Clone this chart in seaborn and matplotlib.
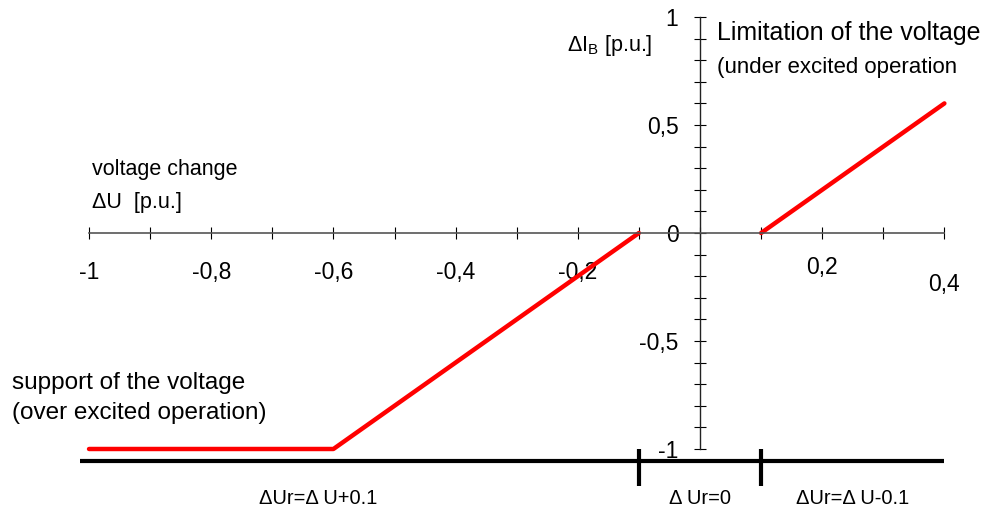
import numpy as np
import pandas as pd
import seaborn as sns
import matplotlib.pyplot as plt
from matplotlib.transforms import ScaledTranslation

# 数据
seg_left_x = [-1.0, -0.6, -0.1]
seg_left_y = [-1.0, -1.0, 0.0]
seg_right_x = [0.1, 0.4]
seg_right_y = [0.0, 0.6]

x_ticks = np.round(np.arange(-1.0, 0.41, 0.1), 1)
x_labels = {-1.0: '-1', -0.8: '-0,8', -0.6: '-0,6', -0.4: '-0,4', -0.2: '-0,2', 0.2: '0,2', 0.4: '0,4'}
y_ticks = np.round(np.arange(-1.0, 1.01, 0.1), 1)
y_labels = {-1.0: '-1', -0.5: '-0,5', 0.0: '0', 0.5: '0,5', 1.0: '1'}

# 区域划分 (底部黑线)
region_span = [-1.015, 0.4]
region_level = -1.055
region_bounds = [-0.1, 0.1]
region_names = ['ΔUr=Δ U+0.1', 'Δ Ur=0', 'ΔUr=Δ U-0.1']
region_name_x = [-0.625, 0.0, 0.249]

sns.set_style('white')
plt.rcParams['font.family'] = ['Liberation Sans', 'DejaVu Sans']
plt.rcParams['mathtext.fontset'] = 'custom'
plt.rcParams['mathtext.rm'] = 'Liberation Sans'
plt.rcParams['text.color'] = 'black'

df = pd.DataFrame({
    'x': seg_left_x + seg_right_x,
    'y': seg_left_y + seg_right_y,
    'seg': ['a'] * len(seg_left_x) + ['b'] * len(seg_right_x),
})

fig = plt.figure(figsize=(10.08, 5.12), dpi=100)
ax = fig.add_axes([0, 0, 1, 1])

sns.lineplot(data=df, x='x', y='y', units='seg', estimator=None, sort=False,
             color='#ff0000', linewidth=3.2, ax=ax)

ax.set_xlim(-1.1457, 0.5041)
ax.set_ylim(-1.2917, 1.0787)

# 坐标轴穿过原点
for s in ['top', 'right']:
    ax.spines[s].set_visible(False)
ax.spines['left'].set_position(('data', 0))
ax.spines['bottom'].set_position(('data', 0))
ax.spines['bottom'].set_bounds(-1.0, 0.4)
ax.spines['left'].set_bounds(-1.0, 1.0)
ax.spines['bottom'].set_color('#555555')
ax.spines['left'].set_color('#222222')
ax.spines['bottom'].set_linewidth(1.2)
ax.spines['left'].set_linewidth(1.0)

ax.set_xticks(x_ticks)
ax.set_xticklabels([x_labels.get(t, '') for t in x_ticks])
ax.set_yticks(y_ticks)
ax.set_yticklabels([y_labels.get(t, '') for t in y_ticks])
ax.tick_params(axis='x', bottom=True, direction='inout', length=9, width=0.8, pad=16,
               labelsize=16.5, colors='black')
ax.tick_params(axis='y', left=True, direction='inout', length=9, width=0.8, pad=11,
               labelsize=16.5, colors='black')
ax.set_xlabel('')
ax.set_ylabel('')

# 个别刻度标签位置微调
for t, lab in zip(x_ticks, ax.get_xticklabels()):
    if t == 0.2:
        lab.set_transform(lab.get_transform() + ScaledTranslation(0, 5 / 100, fig.dpi_scale_trans))
    if t == 0.4:
        lab.set_transform(lab.get_transform() + ScaledTranslation(0, -12 / 100, fig.dpi_scale_trans))

# 底部区域线
ax.plot(region_span, [region_level, region_level], color='black', linewidth=3, solid_capstyle='butt')
for b in region_bounds:
    ax.plot([b, b], [-1.0, -1.17], color='black', linewidth=3, solid_capstyle='butt')
for name, nx in zip(region_names, region_name_x):
    ax.text(nx, -1.23, name, ha='center', va='center', fontsize=14.5)

# 文字标注
ax.text(-0.2177, 0.87, 'ΔI$_{\\mathrm{B}}$ [p.u.]', ha='left', va='center', fontsize=15.5)
ax.text(-0.995, 0.2917, 'voltage change', ha='left', va='center', fontsize=15.5)
ax.text(-0.995, 0.139, 'ΔU  [p.u.]', ha='left', va='center', fontsize=15.5)
ax.text(0.0278, 0.926, 'Limitation of the voltage', ha='left', va='center', fontsize=18)
ax.text(0.0278, 0.7685, '(under excited operation', ha='left', va='center', fontsize=16)
ax.text(-1.126, -0.694, 'support of the voltage', ha='left', va='center', fontsize=17.5)
ax.text(-1.126, -0.833, '(over excited operation)', ha='left', va='center', fontsize=17.5)

fig.savefig('out.png', dpi=100)
